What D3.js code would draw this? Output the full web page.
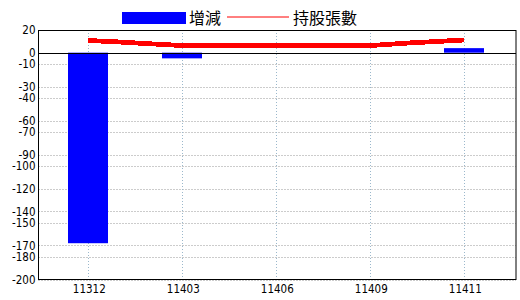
<!DOCTYPE html>
<html>
<head>
<meta charset="utf-8">
<script src="https://cdn.jsdelivr.net/npm/d3@7"></script>
<style>
    html, body { margin: 0; padding: 0; background: #fff; }
    svg { display: block; }
    .tick-label { font-family: "Liberation Sans Narrow", "DejaVu Sans Condensed", "Liberation Sans", sans-serif; font-size: 11.5px; fill: #000; }
    .legend-label { font-family: "Noto Sans CJK TC", "Noto Sans CJK SC", sans-serif; font-size: 16px; fill: #000; }
</style>
</head>
<body>
<div id="chart"></div>
<script>

// period labels shown on the x axis (every 5th point of the holdings series)
var xLabels = ['11312', '11403', '11406', '11409', '11411'];

// 增減 bars, one per labelled period
var barValues = [-168, -5, 0, 0, 4];

// 持股張數 line, one value per point
var holdings = [10.7, 10.0, 9.1, 8.1, 7.2, 6.3, 6.3, 6.3, 6.3, 6.3, 6.3,
                6.3, 6.3, 6.3, 6.3, 6.3, 7.4, 8.5, 9.4, 10.3, 11.2];

// y axis tick labels
var yTicks = [20, 0, -10, -30, -40, -60, -70, -90, -100, -120, -140, -150, -170, -180, -200];

var legendNames = ['增減', '持股張數'];


var width = 520;
var height = 300;

var margin = {
    left: 38.5,
    top: 30,
    right: 4,
    bottom: 20.5
};

var svg = d3.select('#chart')
    .append('svg')
    .attr('width', width)
    .attr('height', height);

var xScale = d3.scaleLinear()
    .domain([-2.65, holdings.length - 1 + 2.75])
    .range([margin.left, width - margin.right]);

var yScale = d3.scaleLinear()
    .domain([-200, 20])
    .range([height - margin.bottom, margin.top]);

var labelStep = (holdings.length - 1) / (xLabels.length - 1);
var barWidth = 40;

// horizontal grid
svg.append('g')
    .selectAll('line')
    .data(yTicks.filter(d => d !== 20 && d !== 0))
    .enter()
    .append('line')
    .attr('x1', margin.left)
    .attr('x2', width - margin.right)
    .attr('y1', d => Math.round(yScale(d)) + 0.5)
    .attr('y2', d => Math.round(yScale(d)) + 0.5)
    .style('stroke', '#999')
    .style('stroke-dasharray', '1,2');

// vertical grid
svg.append('g')
    .selectAll('line')
    .data(xLabels)
    .enter()
    .append('line')
    .attr('x1', (d, i) => Math.round(xScale(i * labelStep)) + 0.5)
    .attr('x2', (d, i) => Math.round(xScale(i * labelStep)) + 0.5)
    .attr('y1', margin.top)
    .attr('y2', height - margin.bottom)
    .style('stroke', '#9bb8cc')
    .style('stroke-dasharray', '1,2');

// bars
svg.append('g')
    .selectAll('rect')
    .data(barValues)
    .enter()
    .append('rect')
    .attr('x', (d, i) => Math.round(xScale(i * labelStep) - barWidth / 2))
    .attr('width', barWidth)
    .attr('y', d => yScale(Math.max(0, d)))
    .attr('height', d => Math.abs(yScale(d) - yScale(0)))
    .style('fill', '#0000ff');

// zero line
svg.append('line')
    .attr('x1', margin.left)
    .attr('x2', width - margin.right)
    .attr('y1', Math.round(yScale(0)) + 0.5)
    .attr('y2', Math.round(yScale(0)) + 0.5)
    .style('stroke', '#000');

// holdings line
var line = d3.line()
    .x((d, i) => xScale(i))
    .y(d => yScale(d));

svg.append('path')
    .datum(holdings)
    .attr('d', line)
    .style('fill', 'none')
    .style('stroke', '#ff0000')
    .style('stroke-width', 4.8)
    .style('shape-rendering', 'crispEdges');

// frame
svg.append('rect')
    .attr('x', margin.left)
    .attr('y', margin.top + 0.5)
    .attr('width', width - margin.right - margin.left)
    .attr('height', height - margin.bottom - margin.top - 0.5)
    .style('fill', 'none')
    .style('stroke', '#000');

// y tick labels
svg.append('g')
    .selectAll('text')
    .data(yTicks)
    .enter()
    .append('text')
    .attr('class', 'tick-label')
    .attr('x', margin.left - 3)
    .attr('y', d => yScale(d))
    .attr('dy', '0.36em')
    .attr('text-anchor', 'end')
    .text(d => d);

// x tick labels
svg.append('g')
    .selectAll('text')
    .data(xLabels)
    .enter()
    .append('text')
    .attr('class', 'tick-label')
    .attr('x', (d, i) => xScale(i * labelStep) + 1)
    .attr('y', height - margin.bottom + 13)
    .attr('text-anchor', 'middle')
    .text(d => d);

// legend
var legend = svg.append('g')
    .attr('class', 'legend');

legend.append('rect')
    .attr('x', 122)
    .attr('y', 12)
    .attr('width', 64)
    .attr('height', 12)
    .style('fill', '#0000ff');

legend.append('text')
    .attr('class', 'legend-label')
    .attr('x', 189)
    .attr('y', 24)
    .text(legendNames[0]);

legend.append('line')
    .attr('x1', 227)
    .attr('x2', 289)
    .attr('y1', 17)
    .attr('y2', 17)
    .style('stroke', '#ff0000')
    .style('stroke-width', 1);

legend.append('text')
    .attr('class', 'legend-label')
    .attr('x', 293)
    .attr('y', 24)
    .text(legendNames[1]);

</script>
</body>
</html>
